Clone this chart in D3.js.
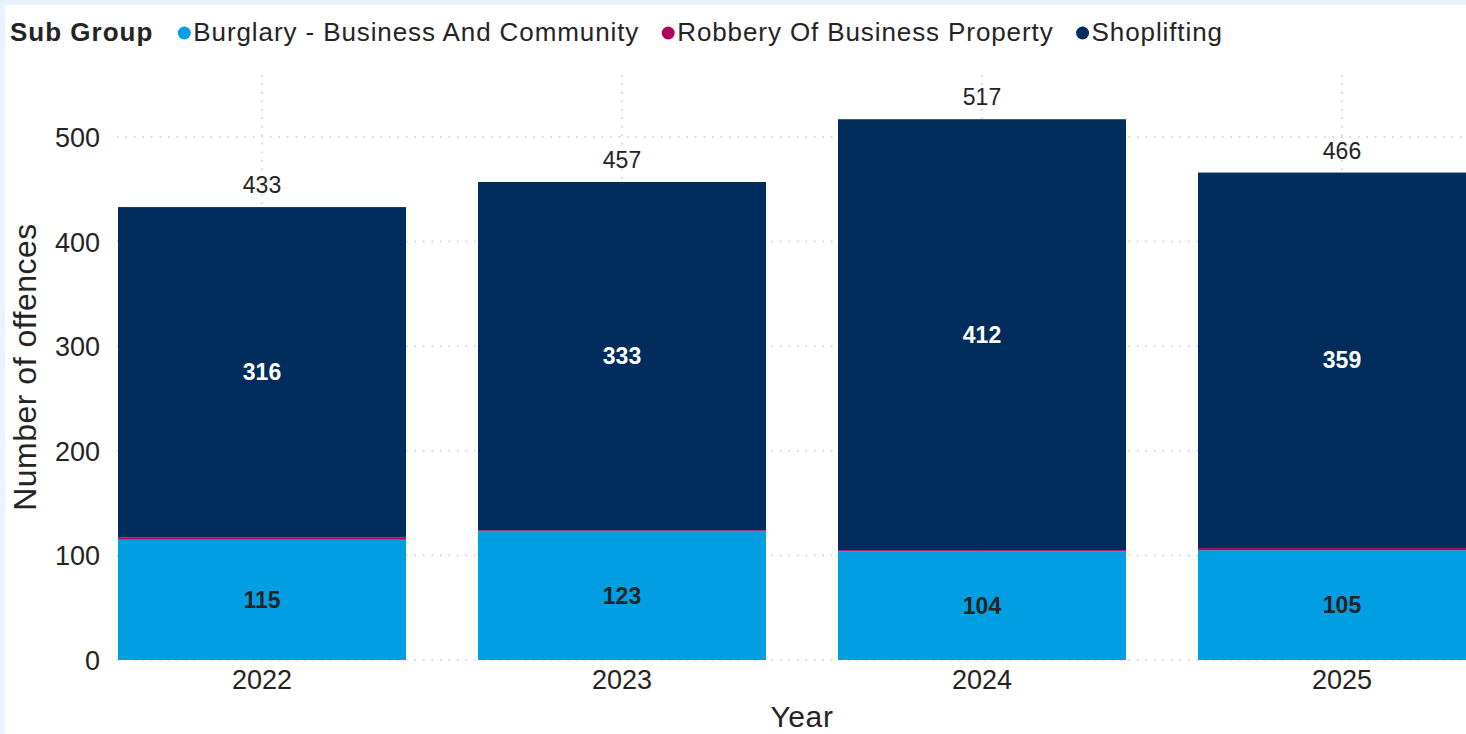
<!DOCTYPE html>
<html>
<head>
<meta charset="utf-8">
<script src="https://cdn.jsdelivr.net/npm/d3@7"></script>
<style>
  html, body { margin: 0; padding: 0; background: #eaf3fd; }
  svg { display: block; }
</style>
</head>
<body>
<svg id="chart" width="1466" height="734"></svg>
<script>
const years = ["2022", "2023", "2024", "2025"];
const seriesNames = ["Burglary - Business And Community", "Robbery Of Business Property", "Shoplifting"];
const burglary = [115, 123, 104, 105];
const robbery = [2, 1, 1, 2];
const shoplifting = [316, 333, 412, 359];
const totals = [433, 457, 517, 466];
const yTicks = [0, 100, 200, 300, 400, 500];
const colors = ["#009fe3", "#b5005b", "#002d5b"];

const svg = d3.select("#chart");
const W = 1466, H = 734;
const font = "'Liberation Sans', Arial, sans-serif";

// white card
svg.append("rect").attr("x", 5).attr("y", 5).attr("width", W - 5).attr("height", H - 5).attr("fill", "#ffffff");

const x = d3.scaleBand().domain(years).range([82, 1522]).paddingInner(0.2).paddingOuter(0.1);
const y = d3.scaleLinear().domain([0, 500]).range([660, 137]);

const rows = years.map((yr, i) => ({ year: yr, b: burglary[i], r: robbery[i], s: shoplifting[i], total: totals[i] }));
const stack = d3.stack().keys(["b", "r", "s"])(rows);

// horizontal gridlines
svg.append("g").selectAll("line").data(yTicks).join("line")
  .attr("x1", 117).attr("x2", W)
  .attr("y1", d => y(d)).attr("y2", d => y(d))
  .attr("stroke", "#c8c8c8").attr("stroke-width", 1.5).attr("stroke-dasharray", "1.5,7");

// vertical gridlines at category centers
svg.append("g").selectAll("line").data(years).join("line")
  .attr("x1", d => x(d) + x.bandwidth() / 2).attr("x2", d => x(d) + x.bandwidth() / 2)
  .attr("y1", 75).attr("y2", 660)
  .attr("stroke", "#c8c8c8").attr("stroke-width", 1.5).attr("stroke-dasharray", "1.5,7");

// bars
const layers = svg.append("g").selectAll("g").data(stack).join("g")
  .attr("fill", (d, i) => colors[i]);
layers.selectAll("rect").data(d => d).join("rect")
  .attr("x", d => x(d.data.year))
  .attr("width", x.bandwidth())
  .attr("y", d => y(d[1]))
  .attr("height", d => y(d[0]) - y(d[1]));

// y-axis
const yAxis = d3.axisLeft(y).tickValues(yTicks).tickSize(0).tickPadding(0);
const yg = svg.append("g").attr("transform", "translate(100,0)").call(yAxis);
yg.select(".domain").remove();
yg.selectAll("text").attr("font-family", font).attr("font-size", 27).attr("fill", "#252423").attr("dy", "0.35em");

// x-axis
const xAxis = d3.axisBottom(x).tickSize(0).tickPadding(0);
const xg = svg.append("g").attr("transform", "translate(0,667)").call(xAxis);
xg.select(".domain").remove();
xg.selectAll("text").attr("font-family", font).attr("font-size", 27).attr("fill", "#252423").attr("dy", "0.8em");

// axis titles
svg.append("text").attr("x", 802).attr("y", 727).attr("text-anchor", "middle")
  .attr("font-family", font).attr("font-size", 30).attr("letter-spacing", 0.6).attr("fill", "#252423").text("Year");
svg.append("text").attr("transform", "translate(36,367) rotate(-90)").attr("text-anchor", "middle")
  .attr("font-family", font).attr("font-size", 32).attr("letter-spacing", 0.5).attr("fill", "#252423").text("Number of offences");

// data labels inside
const cx = d => x(d) + x.bandwidth() / 2;
svg.append("g").selectAll("text").data(rows).join("text")
  .attr("x", d => cx(d.year)).attr("y", d => y(d.b / 2)).attr("dy", "0.35em")
  .attr("text-anchor", "middle").attr("font-family", font).attr("font-size", 23).attr("font-weight", "bold")
  .attr("fill", "#252423").text(d => d.b);
svg.append("g").selectAll("text").data(rows).join("text")
  .attr("x", d => cx(d.year)).attr("y", d => y(d.b + d.r + d.s / 2)).attr("dy", "0.35em")
  .attr("text-anchor", "middle").attr("font-family", font).attr("font-size", 23).attr("font-weight", "bold")
  .attr("fill", "#ffffff").text(d => d.s);
// totals
svg.append("g").selectAll("text").data(rows).join("text")
  .attr("x", d => cx(d.year)).attr("y", d => y(d.total) - 22).attr("dy", "0.35em")
  .attr("text-anchor", "middle").attr("font-family", font).attr("font-size", 23)
  .attr("fill", "#252423").text(d => d.total);

// legend
const lg = svg.append("g");
const title = lg.append("text").attr("x", 10).attr("y", 41).attr("font-family", font).attr("font-size", 26)
  .attr("font-weight", "bold").attr("letter-spacing", 1).attr("fill", "#252423").text("Sub Group");
let cursor = 10 + title.node().getComputedTextLength() + 31;
seriesNames.forEach((name, i) => {
  lg.append("circle").attr("cx", cursor).attr("cy", 33).attr("r", 6.5).attr("fill", colors[i]);
  const t = lg.append("text").attr("x", cursor + 9).attr("y", 41).attr("font-family", font).attr("font-size", 26)
    .attr("letter-spacing", 0.9).attr("fill", "#252423").text(name);
  cursor = cursor + 9 + t.node().getComputedTextLength() + 29;
});
</script>
</body>
</html>
